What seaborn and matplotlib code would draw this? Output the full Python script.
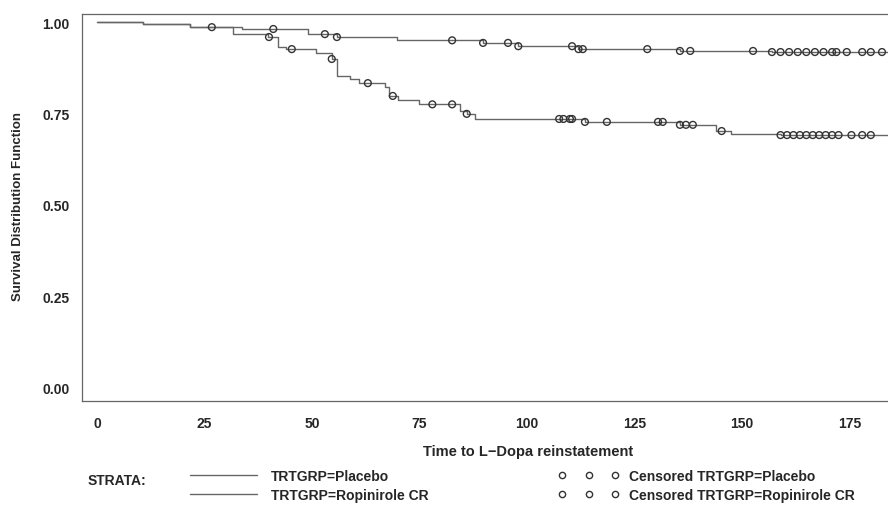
import numpy as np
import pandas as pd
import matplotlib
matplotlib.use('Agg')
import matplotlib.pyplot as plt
from matplotlib.lines import Line2D
import seaborn as sns

# --- 1. DATA ---
# Kaplan-Meier step points, upper curve
rop_time = [0, 10.7, 21.6, 33.7, 49.0, 55.8, 69.8, 89.8, 98.0, 112.0, 135.6, 157.0, 190.0]
rop_surv = [1.000, 0.995, 0.986, 0.981, 0.967, 0.959, 0.950, 0.943, 0.934, 0.926, 0.921, 0.918, 0.918]
rop_cens = [26.7, 41.0, 53.0, 55.8, 82.6, 89.8, 95.6, 98.0, 110.5, 112.0, 113.0, 128.0,
            135.6, 138.0, 152.6, 157.0, 159.0, 161.0, 163.0, 165.0, 167.0, 169.0, 171.0,
            172.0, 174.4, 178.0, 180.0, 182.6]

# Kaplan-Meier step points, lower curve
pbo_time = [0, 10.7, 21.6, 31.7, 39.8, 42.0, 44.0, 51.0, 54.6, 55.8, 58.8, 61.0, 67.0,
            68.0, 70.0, 75.0, 84.4, 86.0, 88.0, 113.5, 135.6, 144.0, 147.5, 159.0, 190.0]
pbo_surv = [1.000, 0.995, 0.986, 0.967, 0.959, 0.932, 0.926, 0.915, 0.899, 0.852, 0.844,
            0.833, 0.822, 0.798, 0.787, 0.775, 0.757, 0.749, 0.735, 0.727, 0.719, 0.702,
            0.694, 0.691, 0.691]
pbo_cens = [40.0, 45.3, 54.6, 63.0, 68.8, 78.0, 82.6, 86.0, 107.5, 108.5, 110.0, 110.5,
            113.5, 118.6, 130.5, 131.6, 135.6, 137.0, 138.6, 145.3, 159.0, 160.5, 162.0,
            163.5, 165.0, 166.5, 168.0, 169.5, 171.0, 172.5, 175.5, 178.0, 180.0]

x_ticks = [0, 25, 50, 75, 100, 125, 150, 175]
y_ticks = [0.00, 0.25, 0.50, 0.75, 1.00]


def surv_at(times, surv, t):
    # value of the step function at the censoring times
    idx = np.searchsorted(np.array(times), np.array(t), side='right') - 1
    return np.array(surv)[idx]


# --- 2. STYLE ---
sns.set_style('white')
plt.rcParams['font.family'] = ['Liberation Sans', 'DejaVu Sans']
plt.rcParams['font.weight'] = 'bold'
plt.rcParams['axes.labelweight'] = 'bold'
line_col = '#666666'
mark_col = '#333333'

fig = plt.figure(figsize=(8.88, 5.06), dpi=100)
ax = fig.add_axes([82 / 888, 1 - 402 / 506, 1 - 82 / 888, (402 - 15) / 506])

# --- 3. CURVES ---
sns.lineplot(x=pbo_time, y=pbo_surv, ax=ax, drawstyle='steps-post', color=line_col,
             linewidth=1.0, estimator=None, sort=False)
sns.lineplot(x=rop_time, y=rop_surv, ax=ax, drawstyle='steps-post', color=line_col,
             linewidth=1.0, estimator=None, sort=False)

sns.scatterplot(x=pbo_cens, y=surv_at(pbo_time, pbo_surv, pbo_cens), ax=ax, marker='o',
                s=24, facecolors='none', edgecolor=mark_col, linewidth=1.0, zorder=3)
sns.scatterplot(x=rop_cens, y=surv_at(rop_time, rop_surv, rop_cens), ax=ax, marker='o',
                s=24, facecolors='none', edgecolor=mark_col, linewidth=1.0, zorder=3)

# --- 4. AXES ---
ax.set_xlim(-3.5, 184)
ax.set_ylim(-0.036, 1.022)
ax.set_xticks(x_ticks)
ax.set_xticklabels([str(t) for t in x_ticks])
ax.set_yticks(y_ticks)
ax.set_yticklabels([f'{v:.2f}' for v in y_ticks])
ax.tick_params(axis='both', direction='out', length=4, width=0.8, color='#555555',
               labelsize=10)
ax.tick_params(axis='x', pad=7)
ax.tick_params(axis='y', pad=5)
for side in ['left', 'top', 'bottom']:
    ax.spines[side].set_color('#666666')
    ax.spines[side].set_linewidth(0.9)
ax.spines['right'].set_visible(False)

ax.set_xlabel('Time to L\u2212Dopa reinstatement', fontsize=10.5)
ax.set_ylabel('Survival Distribution Function', fontsize=9.5)
ax.xaxis.set_label_coords((528 - 82) / (888 - 82), -(452 - 402) / 387)
ax.xaxis.label.set_va('center')
ax.yaxis.set_label_coords(-(82 - 18) / (888 - 82), (402 - 207) / 387)
ax.yaxis.label.set_va('center')

# --- 5. LEGEND ---
fig.text(88 / 888, 1 - 481 / 506, 'STRATA:', fontsize=10, va='center', ha='left')

line_handles = [Line2D([], [], color=line_col, linewidth=1.0),
                Line2D([], [], color=line_col, linewidth=1.0)]
leg1 = fig.legend(line_handles, ['TRTGRP=Placebo', 'TRTGRP=Ropinirole CR'],
                  loc='upper left', bbox_to_anchor=(190 / 888, 1 - 470 / 506),
                  frameon=False, fontsize=10, handlelength=4.8, handletextpad=1.0,
                  labelspacing=0.35, borderpad=0, borderaxespad=0)

cens_handles = [Line2D([], [], linestyle='none', marker='o', markersize=4.5,
                       markerfacecolor='none', markeredgecolor=mark_col),
                Line2D([], [], linestyle='none', marker='o', markersize=4.5,
                       markerfacecolor='none', markeredgecolor=mark_col)]
leg2 = fig.legend(cens_handles, ['Censored TRTGRP=Placebo', 'Censored TRTGRP=Ropinirole CR'],
                  loc='upper left', bbox_to_anchor=(558 / 888, 1 - 470 / 506),
                  frameon=False, fontsize=10, handlelength=4.4, handletextpad=0.7,
                  labelspacing=0.35, borderpad=0, borderaxespad=0, numpoints=3)

fig.savefig('out.png', dpi=100)
